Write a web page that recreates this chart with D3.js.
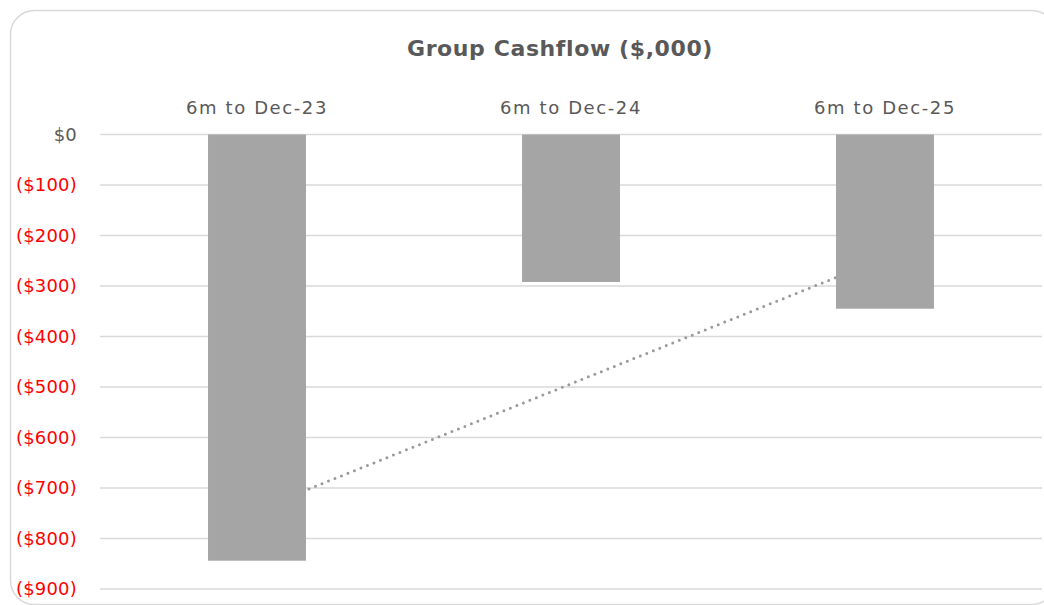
<!doctype html>
<html lang="en">
<head>
    <meta charset="utf-8">
    <title>Group Cashflow</title>
    <script src="https://d3js.org/d3.v7.min.js"></script>
    <style>
        body { margin: 0; background: #fff; }
        text { font-family: "Century Gothic", "URW Gothic", "DejaVu Sans", sans-serif; }
    </style>
</head>
<body>
    <div id="chart"></div>
    <script>
        // chart data
        var categories = ["6m to Dec-23", "6m to Dec-24", "6m to Dec-25"]
        var cashflow = [-844, -292, -345]
        var tickValues = [0, -100, -200, -300, -400, -500, -600, -700, -800, -900]

        var width = 1044,
            height = 605

        var svg = d3.select("#chart")
            .append("svg")
            .attr("width", width)
            .attr("height", height)

        // chart frame
        svg.append("rect")
            .attr("x", 10.5).attr("y", 10.5)
            .attr("width", 1045).attr("height", 594)
            .attr("rx", 24)
            .attr("fill", "#fff")
            .attr("stroke", "#d9d9d9")
            .attr("stroke-width", 1.5)

        var x = d3.scaleBand()
            .domain(categories)
            .range([100, 1042])
            .paddingInner(0.688)
            .paddingOuter(0.344)

        var y = d3.scaleLinear()
            .domain([0, -900])
            .range([134.5, 589])

        // gridlines
        svg.append("g")
            .selectAll("line")
            .data(tickValues)
            .enter()
            .append("line")
            .attr("x1", 100).attr("x2", 1042)
            .attr("y1", d => y(d)).attr("y2", d => y(d))
            .attr("stroke", "#d9d9d9")
            .attr("stroke-width", 1.5)

        // y tick labels
        var fmt = d => d < 0 ? "($" + Math.abs(d) + ")" : "$" + d
        svg.append("g")
            .selectAll("text")
            .data(tickValues)
            .enter()
            .append("text")
            .attr("x", 77)
            .attr("y", d => y(d))
            .attr("dy", "0.35em")
            .attr("text-anchor", "end")
            .attr("font-size", "18px")
            .attr("letter-spacing", "0.2px")
            .attr("fill", d => d < 0 ? "#ff0000" : "#595959")
            .text(fmt)

        // category labels along the top
        svg.append("g")
            .selectAll("text")
            .data(categories)
            .enter()
            .append("text")
            .attr("x", d => x(d) + x.bandwidth() / 2)
            .attr("y", 114)
            .attr("text-anchor", "middle")
            .attr("font-size", "18px")
            .attr("letter-spacing", "1.6px")
            .attr("fill", "#595959")
            .text(d => d)

        // linear trendline (least squares on category index)
        var n = cashflow.length
        var xs = d3.range(1, n + 1)
        var mx = d3.mean(xs), my = d3.mean(cashflow)
        var slope = d3.sum(xs, (v, i) => (v - mx) * (cashflow[i] - my)) / d3.sum(xs, v => (v - mx) * (v - mx))
        var icpt = my - slope * mx
        var cx = i => x(categories[i - 1]) + x.bandwidth() / 2
        svg.append("line")
            .attr("x1", cx(1)).attr("y1", y(icpt + slope * 1))
            .attr("x2", cx(n)).attr("y2", y(icpt + slope * n))
            .attr("stroke", "#9a9a9a")
            .attr("stroke-width", 3)
            .attr("stroke-linecap", "round")
            .attr("stroke-dasharray", "0,7")

        // bars
        svg.append("g")
            .selectAll("rect")
            .data(cashflow)
            .enter()
            .append("rect")
            .attr("x", (d, i) => x(categories[i]))
            .attr("y", d => y(0))
            .attr("width", x.bandwidth())
            .attr("height", d => y(d) - y(0))
            .attr("fill", "#a5a5a5")

        // title
        svg.append("text")
            .attr("x", 560)
            .attr("y", 56)
            .attr("text-anchor", "middle")
            .attr("font-size", "22px")
            .attr("font-weight", "bold")
            .attr("letter-spacing", "0.6px")
            .attr("fill", "#595959")
            .text("Group Cashflow ($,000)")
    </script>
</body>
</html>
